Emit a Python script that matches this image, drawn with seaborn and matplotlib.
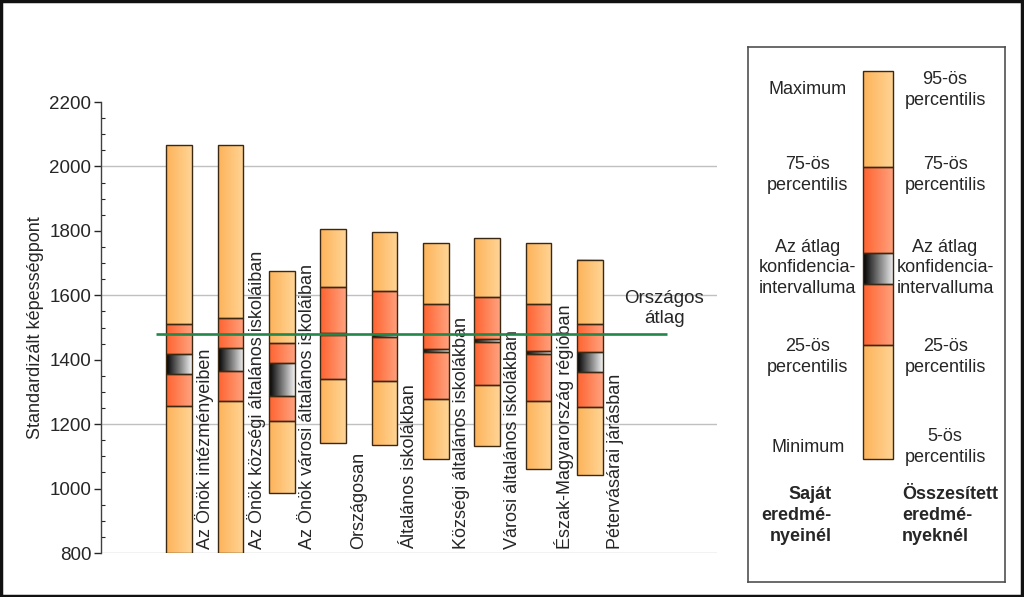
import numpy as np
import pandas as pd
import seaborn as sns
import matplotlib.pyplot as plt
from matplotlib.colors import LinearSegmentedColormap
from matplotlib.patches import Rectangle

# values
groups = ["Az Önök intézményeiben",
          "Az Önök községi általános iskoláiban",
          "Az Önök városi általános iskoláiban",
          "Országosan",
          "Általános iskolákban",
          "Községi általános iskolákban",
          "Városi általános iskolákban",
          "Észak-Magyarország régióban",
          "Pétervásárai járásban"]
p_low = [800, 800, 986, 1142, 1135, 1092, 1132, 1061, 1042]
p25 = [1256, 1272, 1210, 1340, 1334, 1278, 1322, 1272, 1253]
ci_low = [1356, 1365, 1287, 1477, 1472, 1424, 1455, 1418, 1362]
ci_high = [1418, 1436, 1390, 1483, 1480, 1433, 1465, 1427, 1424]
p75 = [1511, 1530, 1452, 1626, 1613, 1573, 1595, 1573, 1511]
p_high = [2066, 2066, 1675, 1806, 1796, 1762, 1778, 1762, 1710]
national_mean = 1480

df = pd.DataFrame({"group": groups, "low": p_low, "q25": p25, "ci_lo": ci_low,
                   "ci_hi": ci_high, "q75": p75, "high": p_high})

sns.set_style("white")
plt.rcParams["font.family"] = ["Liberation Sans", "DejaVu Sans"]

light_cmap = LinearSegmentedColormap.from_list("light", ["#fdb35a", "#ffd495"])
dark_cmap = LinearSegmentedColormap.from_list("dark", ["#ff6330", "#ffa27e"])
ci_cmap = LinearSegmentedColormap.from_list("ci", ["#000000", "#f0f0f0"])
edge = "#3a2812"
grad = np.linspace(0, 1, 64).reshape(1, -1)
fs = 13


def segment(ax, x, lo, hi, cmap, width):
    ax.imshow(grad, cmap=cmap, aspect="auto", interpolation="bicubic",
              extent=(x - width / 2, x + width / 2, lo, hi), zorder=2)
    ax.bar(x, hi - lo, bottom=lo, width=width, color="none",
           edgecolor=edge, linewidth=1, zorder=3)


def draw_box(ax, x, row, width):
    segment(ax, x, row["low"], row["q25"], light_cmap, width)
    segment(ax, x, row["q25"], row["ci_lo"], dark_cmap, width)
    segment(ax, x, row["ci_lo"], row["ci_hi"], ci_cmap, width)
    segment(ax, x, row["ci_hi"], row["q75"], dark_cmap, width)
    segment(ax, x, row["q75"], row["high"], light_cmap, width)


fig = plt.figure(figsize=(10.24, 5.97), dpi=100)
ax = fig.add_axes([101 / 1024, 1 - 553 / 597, 616 / 1024, 451 / 597])

bw = 0.5
for i, row in df.iterrows():
    draw_box(ax, i, row, bw)
    ax.text(i + 0.5, 812, row["group"], rotation=90, ha="center", va="bottom",
            fontsize=fs, zorder=4)

ax.hlines(national_mean, -0.45, 9.5, color="#23864a", linewidth=1.9, zorder=5)
ax.text(9.45, 1560, "Országos\nátlag", ha="center", va="center",
        fontsize=13.5, linespacing=1.25)

ax.set_xlim(-1.52, 10.48)
ax.set_ylim(800, 2200)
ax.set_yticks(np.arange(800, 2201, 200))
ax.set_yticks(np.arange(800, 2201, 50), minor=True)
ax.tick_params(axis="y", which="major", direction="out", length=5, width=1,
               labelsize=13.5, left=True, pad=2)
ax.tick_params(axis="y", which="minor", direction="in", length=3, width=0.8, left=True)
ax.set_xticks([])
for yv in [800, 1200, 1600, 2000]:
    ax.axhline(yv, color="#c0c0c0", linewidth=1, zorder=1)
ax.set_ylabel("Standardizált képességpont", fontsize=fs, labelpad=4)
for side in ["top", "right", "bottom"]:
    ax.spines[side].set_visible(False)
ax.spines["left"].set_color("#404040")
ax.spines["left"].set_linewidth(1)

# legend panel
lg = fig.add_axes([748 / 1024, 1 - 582 / 597, 257 / 1024, 535 / 597])
lg.set_xlim(0, 1)
lg.set_ylim(0, 1)
lg.set_xticks([])
lg.set_yticks([])
for s in lg.spines.values():
    s.set_color("#505050")
    s.set_linewidth(1.2)

legend_row = {"low": 0.230, "q25": 0.443, "ci_lo": 0.557, "ci_hi": 0.615,
              "q75": 0.776, "high": 0.955}
draw_box(lg, 0.5055, legend_row, 0.117)

left_labels = ["Maximum", "75-ös\npercentilis", "Az átlag\nkonfidencia-\nintervalluma",
               "25-ös\npercentilis", "Minimum"]
right_labels = ["95-ös\npercentilis", "75-ös\npercentilis",
                "Az átlag\nkonfidencia-\nintervalluma", "25-ös\npercentilis",
                "5-ös\npercentilis"]
label_y = [0.920, 0.761, 0.587, 0.421, 0.252]
for txt, yy in zip(left_labels, label_y):
    lg.text(0.233, yy, txt, ha="center", va="center", fontsize=fs,
            linespacing=1.3, multialignment="center")
for txt, yy in zip(right_labels, label_y):
    lg.text(0.767, yy, txt, ha="center", va="center", fontsize=fs,
            linespacing=1.3, multialignment="center")
lg.text(0.325, 0.125, "Saját\neredmé-\nnyeinél", ha="right", va="center",
        fontsize=fs, fontweight="bold", linespacing=1.3, multialignment="right")
lg.text(0.60, 0.125, "Összesített\neredmé-\nnyeknél", ha="left", va="center",
        fontsize=fs, fontweight="bold", linespacing=1.3, multialignment="left")

fig.patches.append(Rectangle((0.001, 0.002), 0.997, 0.996, transform=fig.transFigure,
                             fill=False, edgecolor="#111111", linewidth=2.5))

plt.savefig("out.png", dpi=100)
plt.close()
